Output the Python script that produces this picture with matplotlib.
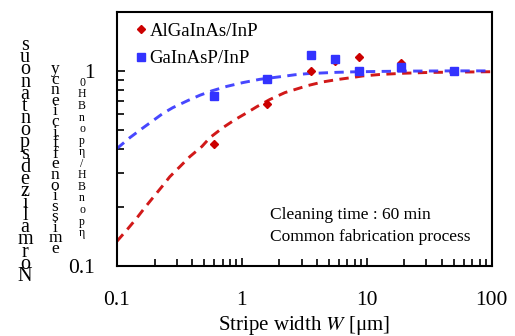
import matplotlib
matplotlib.use("Agg")
import matplotlib.pyplot as plt
from matplotlib.ticker import LogLocator, NullFormatter, FixedLocator, FixedFormatter

plt.rcParams['font.family'] = ['Liberation Serif', 'DejaVu Serif']
plt.rcParams['mathtext.fontset'] = 'stix'

# ---- data ----
w_algainas = [0.6, 1.6, 3.6, 5.6, 8.6, 18.7, 50]
y_algainas = [0.424, 0.68, 1.0, 1.13, 1.18, 1.10, 1.0]
w_gainasp = [0.6, 1.6, 3.6, 5.6, 8.6, 18.7, 50]
y_gainasp = [0.747, 0.913, 1.21, 1.155, 1.0, 1.05, 1.0]

# dashed fit curves
fit_blue_w = [0.1, 0.127, 0.158, 0.19, 0.233, 0.28, 0.37, 0.461, 0.575, 0.759,
              1.02, 1.39, 2.21, 2.65, 3.37, 4.45, 5.75, 7.59, 12.0, 20.0, 50.0, 100.0]
fit_blue_y = [0.40, 0.455, 0.505, 0.55, 0.605, 0.648, 0.705, 0.75, 0.79, 0.833,
              0.871, 0.905, 0.94, 0.955, 0.968, 0.976, 0.983, 0.988, 0.993, 0.997, 1.0, 1.0]
fit_red_w = [0.1, 0.122, 0.145, 0.167, 0.194, 0.229, 0.265, 0.319, 0.384, 0.479, 0.555,
             0.705, 0.879, 1.10, 1.32, 1.67, 2.21, 2.65, 3.37, 4.45, 5.75, 7.59, 9.29,
             12.7, 19.4, 31.9, 100.0]
fit_red_y = [0.134, 0.155, 0.177, 0.199, 0.224, 0.255, 0.287, 0.323, 0.364, 0.41, 0.455,
             0.512, 0.562, 0.611, 0.656, 0.713, 0.774, 0.802, 0.841, 0.878, 0.902, 0.924,
             0.942, 0.958, 0.972, 0.982, 0.99]

x_ticks = [0.1, 1, 10, 100]
x_labels = ["0.1", "1", "10", "100"]
y_ticks = [0.1, 1]
y_labels = ["0.1", "1"]

RED = "#cc0000"
BLUE = "#3333ff"

fig = plt.figure(figsize=(5.15, 3.36), dpi=100)
ax = fig.add_axes([0.227, 0.208, 0.728, 0.756])

ax.plot(fit_red_w, fit_red_y, ls=(0, (3.2, 2.2)), color=RED, lw=2.1, alpha=0.9)
ax.plot(fit_blue_w, fit_blue_y, ls=(0, (3.2, 2.2)), color=BLUE, lw=2.1, alpha=0.9)
ax.plot(w_algainas, y_algainas, ls='none', marker='D', ms=4.5, color=RED,
        label="AlGaInAs/InP")
ax.plot(w_gainasp, y_gainasp, ls='none', marker='s', ms=5.5, color=BLUE,
        label="GaInAsP/InP")

ax.set_xscale('log')
ax.set_yscale('log')
ax.set_xlim(0.1, 100)
ax.set_ylim(0.1, 2.0)

ax.xaxis.set_major_locator(FixedLocator(x_ticks))
ax.xaxis.set_major_formatter(FixedFormatter(x_labels))
ax.xaxis.set_minor_locator(LogLocator(base=10, subs=range(2, 10)))
ax.xaxis.set_minor_formatter(NullFormatter())
ax.yaxis.set_major_locator(FixedLocator(y_ticks))
ax.yaxis.set_major_formatter(FixedFormatter(y_labels))
ax.yaxis.set_minor_locator(LogLocator(base=10, subs=range(2, 10)))
ax.yaxis.set_minor_formatter(NullFormatter())

ax.tick_params(which='both', direction='in', top=False, right=False, width=1.2)
ax.tick_params(which='major', length=6)
ax.tick_params(which='minor', length=5)
ax.tick_params(axis='x', which='major', pad=18, labelsize=15.5)
ax.tick_params(axis='y', which='major', pad=16, labelsize=15.5)
for s in ax.spines.values():
    s.set_linewidth(1.5)

ax.set_xlabel("Stripe width $\\mathit{W}$ [μm]", fontsize=15, labelpad=3)

leg = ax.legend(loc='upper left', bbox_to_anchor=(0.027, 0.992), frameon=False,
                fontsize=13.5, handlelength=0.6, handletextpad=0.15,
                labelspacing=0.55, borderaxespad=0.05)

ax.text(0.408, 0.20, "Cleaning time : 60 min", transform=ax.transAxes,
        fontsize=12.5, va='center', ha='left')
ax.text(0.408, 0.114, "Common fabrication process", transform=ax.transAxes,
        fontsize=12.5, va='center', ha='left')

# garbled vertical y-axis label (stacked characters as in the reference)
col1 = "suonatnops dezilamroN".replace(" ", "")
col2 = "ycneiciffe noissime".replace(" ", "")
col3 = ["0", "H", "B", "n", "o", "p", "η", "/", "H", "B", "n", "o", "p", "η"]
fig.text(25 / 515, 1 - 161 / 336, "\n".join(col1), ha='center', va='center',
         fontsize=14.5, linespacing=0.51)
fig.text(55 / 515, 1 - 159 / 336, "\n".join(col2), ha='center', va='center',
         fontsize=12.5, linespacing=0.55)
fig.text(82 / 515, 1 - 158 / 336, "\n".join(col3), ha='center', va='center',
         fontsize=8.5, linespacing=0.95)

fig.savefig("out.png", dpi=100)
